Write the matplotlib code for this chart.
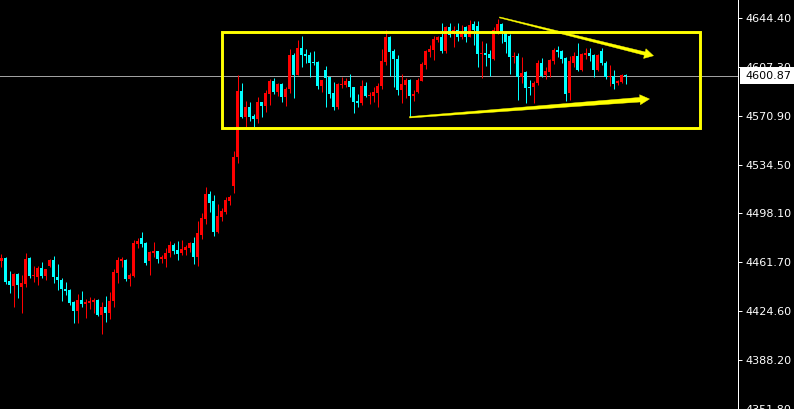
import matplotlib
matplotlib.use('Agg')
import matplotlib.pyplot as plt
from matplotlib.patches import Rectangle, Polygon
from matplotlib.transforms import IdentityTransform
import numpy as np

# ---- data (OHLC per bar) ----
opens = [4462.6, 4464.6, 4447.4, 4443.9, 4452.7, 4442.7, 4445.4, 4464.6, 4451.2, 4450.6,
         4457.1, 4451.2, 4458.9, 4463.1, 4450.4, 4448.2, 4441.4, 4440.7, 4431.7, 4425.2,
         4433.2, 4430.5, 4431.0, 4431.9, 4433.2, 4422.0, 4428.2, 4423.3, 4432.5, 4453.6,
         4462.6, 4463.1, 4448.9, 4451.2, 4475.1, 4479.6, 4476.1, 4462.6, 4468.6, 4469.9,
         4463.6, 4463.9, 4468.1, 4474.3, 4470.6, 4468.1, 4470.6, 4472.3, 4475.8, 4465.6,
         4481.8, 4493.8, 4512.5, 4507.2, 4484.3, 4495.3, 4499.0, 4507.2, 4518.7, 4539.9,
         4589.5, 4569.8, 4577.5, 4570.8, 4568.3, 4581.2, 4578.3, 4587.4, 4596.9, 4588.9,
         4594.7, 4585.2, 4590.7, 4616.4, 4601.4, 4621.6, 4617.1, 4616.4, 4611.4, 4611.4,
         4593.2, 4605.2, 4599.9, 4587.7, 4577.3, 4593.7, 4594.0, 4596.9, 4592.2, 4582.2,
         4580.7, 4593.2, 4585.7, 4585.7, 4588.2, 4593.2, 4611.4, 4630.1, 4619.4, 4613.4,
         4590.2, 4594.0, 4597.7, 4585.7, 4588.7, 4597.2, 4608.9, 4618.8, 4620.1, 4627.6,
         4630.1, 4619.4, 4637.5, 4631.9, 4635.1, 4630.1, 4637.5, 4630.1, 4639.6, 4638.1,
         4617.4, 4618.1, 4617.1, 4613.1, 4633.8, 4639.6, 4633.8, 4630.6, 4614.9, 4615.6,
         4599.7, 4603.9, 4592.7, 4592.2, 4595.2, 4610.6, 4601.4, 4603.9, 4612.1, 4620.1,
         4619.4, 4613.9, 4588.2, 4610.6, 4615.6, 4605.2, 4616.4, 4618.1, 4616.4, 4605.2,
         4619.4, 4610.6, 4599.9, 4600.9, 4595.2, 4596.4, 4601.2]
highs = [4467.6, 4465.1, 4455.1, 4453.6, 4453.6, 4451.9, 4468.1, 4465.6, 4458.6, 4458.6,
         4461.6, 4456.2, 4463.6, 4466.1, 4460.1, 4449.4, 4446.7, 4441.2, 4432.5, 4437.7,
         4439.9, 4433.7, 4435.7, 4434.9, 4433.7, 4431.9, 4436.2, 4439.0, 4456.2, 4465.1,
         4465.6, 4463.6, 4453.6, 4478.1, 4479.8, 4484.1, 4476.8, 4470.1, 4476.6, 4470.1,
         4466.6, 4471.9, 4477.6, 4476.1, 4477.6, 4478.1, 4474.3, 4476.6, 4480.6, 4492.5,
         4498.0, 4517.5, 4514.9, 4511.7, 4505.0, 4501.8, 4510.5, 4511.7, 4544.6, 4601.4,
         4595.4, 4582.0, 4581.2, 4572.3, 4585.0, 4581.2, 4590.2, 4598.4, 4599.0, 4595.7,
         4595.7, 4592.2, 4620.9, 4617.7, 4627.6, 4630.6, 4620.9, 4618.8, 4619.4, 4612.1,
         4597.7, 4608.2, 4599.9, 4596.0, 4595.2, 4599.7, 4599.0, 4602.2, 4592.2, 4587.2,
         4597.7, 4596.4, 4588.9, 4592.2, 4595.2, 4620.9, 4635.1, 4630.6, 4620.9, 4616.4,
         4602.2, 4599.0, 4598.2, 4590.2, 4599.0, 4611.4, 4620.1, 4623.9, 4630.6, 4630.6,
         4640.5, 4638.1, 4640.1, 4638.1, 4640.1, 4638.8, 4638.1, 4642.5, 4641.8, 4641.8,
         4626.8, 4625.6, 4620.1, 4637.5, 4643.1, 4640.5, 4634.6, 4632.1, 4618.8, 4617.7,
         4614.7, 4604.6, 4597.7, 4597.2, 4612.6, 4613.9, 4607.2, 4613.2, 4621.4, 4623.1,
         4620.1, 4615.1, 4615.6, 4618.8, 4625.6, 4618.1, 4621.4, 4621.4, 4616.9, 4617.1,
         4621.4, 4611.9, 4608.9, 4605.2, 4597.7, 4602.2, 4602.2]
lows = [4458.1, 4445.2, 4438.7, 4427.7, 4434.9, 4423.3, 4443.2, 4449.4, 4446.9, 4444.4,
        4449.9, 4448.2, 4458.1, 4446.2, 4440.7, 4432.7, 4437.2, 4429.5, 4415.8, 4415.8,
        4428.2, 4419.5, 4426.3, 4423.3, 4421.3, 4407.6, 4417.0, 4418.8, 4427.7, 4446.2,
        4458.1, 4447.7, 4443.9, 4450.2, 4472.3, 4472.6, 4459.4, 4451.9, 4465.6, 4460.7,
        4460.7, 4458.1, 4465.6, 4467.6, 4463.1, 4466.9, 4466.9, 4468.9, 4460.1, 4458.9,
        4479.0, 4490.0, 4499.2, 4481.3, 4483.1, 4492.5, 4497.7, 4504.2, 4513.0, 4535.9,
        4569.5, 4562.8, 4567.3, 4562.8, 4565.8, 4569.8, 4573.8, 4579.0, 4587.2, 4585.7,
        4581.5, 4578.3, 4588.2, 4584.5, 4601.4, 4607.6, 4610.6, 4600.2, 4608.7, 4591.2,
        4588.7, 4577.7, 4584.5, 4575.3, 4575.8, 4591.5, 4592.2, 4584.8, 4573.2, 4577.3,
        4579.0, 4584.8, 4579.7, 4581.5, 4577.3, 4590.7, 4608.9, 4600.7, 4592.2, 4586.5,
        4580.7, 4584.0, 4569.8, 4582.2, 4588.2, 4597.2, 4605.9, 4614.7, 4612.6, 4626.3,
        4618.1, 4618.1, 4630.1, 4622.1, 4627.1, 4628.1, 4626.3, 4630.1, 4623.9, 4607.4,
        4599.2, 4608.2, 4600.9, 4612.6, 4632.1, 4625.6, 4618.1, 4602.2, 4610.2, 4582.7,
        4595.7, 4580.7, 4586.5, 4580.7, 4594.0, 4599.7, 4598.2, 4600.2, 4609.7, 4615.1,
        4610.6, 4582.2, 4582.7, 4607.2, 4604.4, 4604.6, 4613.2, 4612.1, 4600.2, 4604.4,
        4608.9, 4598.4, 4593.2, 4591.0, 4594.0, 4595.7, 4594.7]
closes = [4464.6, 4446.7, 4444.4, 4452.7, 4444.4, 4445.7, 4463.9, 4451.2, 4451.7, 4457.4,
          4451.2, 4456.2, 4463.1, 4450.2, 4448.2, 4441.2, 4439.9, 4431.2, 4425.2, 4433.2,
          4430.5, 4431.9, 4432.5, 4433.4, 4422.0, 4428.2, 4423.3, 4432.5, 4454.4, 4463.1,
          4463.6, 4448.9, 4452.1, 4476.1, 4477.6, 4475.1, 4460.7, 4469.3, 4470.1, 4463.9,
          4465.1, 4468.4, 4474.3, 4470.1, 4467.6, 4471.3, 4473.1, 4475.8, 4465.6, 4483.3,
          4494.3, 4512.5, 4506.0, 4484.3, 4496.0, 4499.8, 4508.0, 4510.2, 4539.9, 4589.5,
          4570.3, 4577.5, 4570.3, 4568.3, 4581.2, 4578.3, 4587.7, 4596.9, 4588.9, 4594.7,
          4585.2, 4590.7, 4616.4, 4601.4, 4621.6, 4616.4, 4615.6, 4610.6, 4610.6, 4593.2,
          4597.7, 4599.4, 4587.2, 4577.7, 4594.7, 4594.7, 4596.9, 4592.2, 4581.5, 4580.7,
          4593.2, 4585.7, 4586.5, 4588.7, 4593.2, 4611.9, 4630.1, 4618.8, 4613.4, 4590.2,
          4594.7, 4597.7, 4585.7, 4587.2, 4597.7, 4609.7, 4619.4, 4620.9, 4628.3, 4630.1,
          4619.4, 4637.5, 4631.3, 4635.1, 4630.1, 4633.8, 4630.1, 4638.8, 4635.1, 4617.1,
          4617.9, 4616.6, 4614.3, 4635.1, 4639.6, 4632.6, 4626.1, 4615.1, 4615.3, 4600.2,
          4602.7, 4591.9, 4591.7, 4595.2, 4610.6, 4600.9, 4604.4, 4612.6, 4620.1, 4618.6,
          4613.4, 4587.2, 4611.9, 4615.6, 4605.2, 4617.1, 4618.1, 4615.6, 4605.2, 4616.4,
          4610.2, 4600.2, 4600.9, 4594.7, 4597.2, 4601.2, 4600.87]
tick_values = [4644.40, 4607.30, 4570.90, 4534.50, 4498.10, 4461.70, 4424.60, 4388.20, 4351.80]
last_price = 4600.87

# annotation geometry (bar index, price)
box_x = (55.2, 174.6)
box_y = (4561.8, 4633.3)
upper_arrow = ((124.5, 4644.5), (163.0, 4615.8))
lower_arrow = ((102.0, 4569.8), (162.0, 4583.5))

W, H = 794, 409
UP, DOWN, YELLOW = '#ff0000', '#00ffff', '#ffff00'
PX = 0.72  # one pixel in points at dpi 100

fig = plt.figure(figsize=(W / 100, H / 100), dpi=100, facecolor='black')
ax = fig.add_axes([0, 0, 738 / W, 1])
ax.set_facecolor('black')

o = np.array(opens); h = np.array(highs); l = np.array(lows); c = np.array(closes)
x = np.arange(len(o))
cols = np.where(c >= o, UP, DOWN)

ax.axhline(last_price, color='#a0a0a0', lw=PX, zorder=1)
ax.vlines(x, l, h, colors=cols, lw=PX, zorder=2)
lo = np.minimum(o, c)
hgt = np.maximum(np.abs(c - o), 0.75)
ax.bar(x, hgt, bottom=lo, width=0.75, color=cols, linewidth=0, zorder=3)

ax.set_xlim(-0.375, -0.375 + 738 / 4)
ax.set_ylim(4351.7, 4657.5)

ax.set_xticks([])
ax.yaxis.tick_right()
ax.set_yticks(tick_values)
ax.set_yticklabels([f'{t:.2f}' for t in tick_values])
ax.tick_params(axis='y', colors='white', length=3, width=PX, pad=2.5, labelsize=8)
for s in ['top', 'left', 'bottom']:
    ax.spines[s].set_visible(False)
ax.spines['right'].set_color('white')
ax.spines['right'].set_linewidth(PX)

ax.add_patch(Rectangle((box_x[0], box_y[0]), box_x[1] - box_x[0], box_y[1] - box_y[0],
                       fill=False, ec=YELLOW, lw=2.1, zorder=5))


def tapered_arrow(p0, p1, w0, w1, head_len, head_w):
    a = ax.transData.transform(p0)
    b = ax.transData.transform(p1)
    d = (b - a) / np.linalg.norm(b - a)
    n = np.array([-d[1], d[0]])
    base = b - d * head_len
    pts = [a + n * w0, base + n * w1, base + n * head_w, b,
           base - n * head_w, base - n * w1, a - n * w0]
    fig.add_artist(Polygon(pts, closed=True, fc=YELLOW, ec=YELLOW, lw=0.3,
                           transform=IdentityTransform(), zorder=6))


tapered_arrow(*upper_arrow, 0.5, 1.7, 9, 5)
tapered_arrow(*lower_arrow, 0.7, 2.3, 9.5, 5)

# current price label
yd = ax.transData.transform((0, last_price))[1]
fig.add_artist(Rectangle((740, yd - 8.5), 54, 17, fc='white', ec='none',
                         transform=IdentityTransform(), zorder=7))
fig.text(745 / W, yd / H, f'{last_price:.2f}', color='black', fontsize=8,
         ha='left', va='center', zorder=8)

fig.savefig('out.png', dpi=100, facecolor='black')
